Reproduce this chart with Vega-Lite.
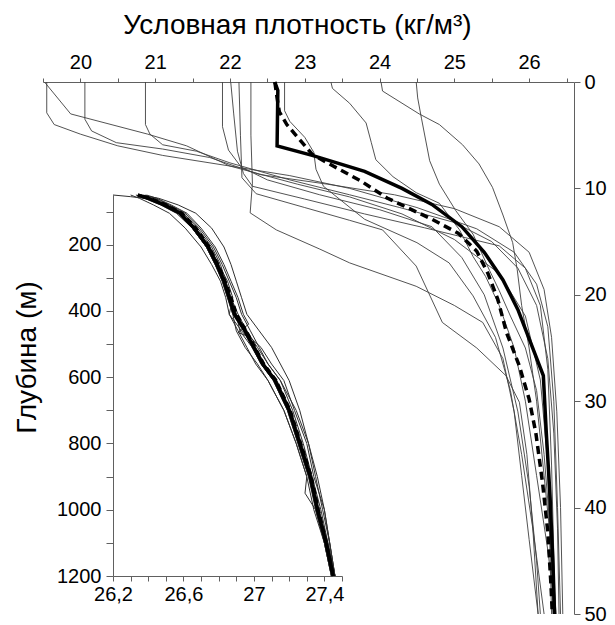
{
"$schema": "https://vega.github.io/schema/vega-lite/v6.json",
"width": 531, "height": 532,
"autosize": "none",
"padding": {"left": 43, "top": 82, "right": 41, "bottom": 11},
"background": "white",
"config": {"view": {"stroke": null}, "font": "Liberation Sans",
 "axis": {"labelFont": "Liberation Sans", "titleFont": "Liberation Sans", "labelColor": "#000", "titleColor": "#000", "domainColor": "#606060", "tickColor": "#606060", "grid": false, "titleFontWeight": "normal", "labelFontSize": 20, "titleFontSize": 28, "labelFlush": false, "labelOverlap": false, "labelBound": false}},
"datasets": {
"main": [
{"p":"P1","v":19.52,"d":0},{"p":"P1","v":19.87,"d":3.0},{"p":"P1","v":20.9,"d":4.9},{"p":"P1","v":21.42,"d":6.0},{"p":"P1","v":22.0,"d":7.9},{"p":"P1","v":22.9,"d":9.6},{"p":"P1","v":23.6,"d":10.8},{"p":"P1","v":24.3,"d":12.4},{"p":"P1","v":25.0,"d":14.8},{"p":"P1","v":25.6,"d":18.0},{"p":"P1","v":25.95,"d":22},{"p":"P1","v":26.15,"d":28},{"p":"P1","v":26.25,"d":36},{"p":"P1","v":26.3,"d":50},
{"p":"P2","v":19.55,"d":0},{"p":"P2","v":19.55,"d":2.9},{"p":"P2","v":19.65,"d":4.0},{"p":"P2","v":20.0,"d":4.9},{"p":"P2","v":20.5,"d":6.0},{"p":"P2","v":21.1,"d":6.9},{"p":"P2","v":22.0,"d":7.9},{"p":"P2","v":22.8,"d":8.8},{"p":"P2","v":23.6,"d":10.0},{"p":"P2","v":24.5,"d":11.8},{"p":"P2","v":25.3,"d":13.8},{"p":"P2","v":25.8,"d":16},{"p":"P2","v":26.1,"d":19},{"p":"P2","v":26.25,"d":23},{"p":"P2","v":26.33,"d":30},{"p":"P2","v":26.38,"d":40},{"p":"P2","v":26.42,"d":50},
{"p":"P3","v":20.06,"d":0},{"p":"P3","v":20.06,"d":3.5},{"p":"P3","v":20.15,"d":4.6},{"p":"P3","v":20.48,"d":5.7},{"p":"P3","v":21.1,"d":6.3},{"p":"P3","v":21.73,"d":7.1},{"p":"P3","v":22.4,"d":8.7},{"p":"P3","v":23.3,"d":9.6},{"p":"P3","v":24.2,"d":10.6},{"p":"P3","v":25.0,"d":11.9},{"p":"P3","v":25.6,"d":13.6},{"p":"P3","v":26.0,"d":16},{"p":"P3","v":26.2,"d":19.5},{"p":"P3","v":26.3,"d":24},{"p":"P3","v":26.37,"d":31},{"p":"P3","v":26.42,"d":40},{"p":"P3","v":26.45,"d":50},
{"p":"P4","v":20.87,"d":0},{"p":"P4","v":20.87,"d":4.0},{"p":"P4","v":20.93,"d":4.9},{"p":"P4","v":21.1,"d":5.9},{"p":"P4","v":21.55,"d":6.5},{"p":"P4","v":22.0,"d":7.6},{"p":"P4","v":22.8,"d":9.2},{"p":"P4","v":23.6,"d":10.6},{"p":"P4","v":24.27,"d":11.8},{"p":"P4","v":25.0,"d":13.2},{"p":"P4","v":25.5,"d":15.0},{"p":"P4","v":25.85,"d":17.5},{"p":"P4","v":26.1,"d":21},{"p":"P4","v":26.25,"d":26},{"p":"P4","v":26.33,"d":33},{"p":"P4","v":26.38,"d":42},{"p":"P4","v":26.4,"d":50},
{"p":"P5","v":21.9,"d":0},{"p":"P5","v":21.9,"d":4.2},{"p":"P5","v":21.98,"d":6.4},{"p":"P5","v":22.15,"d":8.0},{"p":"P5","v":22.5,"d":9.2},{"p":"P5","v":23.2,"d":10.6},{"p":"P5","v":24.0,"d":12.0},{"p":"P5","v":24.7,"d":13.6},{"p":"P5","v":25.1,"d":16.5},{"p":"P5","v":25.4,"d":20},{"p":"P5","v":25.65,"d":25},{"p":"P5","v":25.85,"d":31},{"p":"P5","v":26.0,"d":38},{"p":"P5","v":26.1,"d":45},{"p":"P5","v":26.15,"d":50},
{"p":"P6","v":22.01,"d":0},{"p":"P6","v":22.05,"d":3},{"p":"P6","v":22.1,"d":6.5},{"p":"P6","v":22.18,"d":8.6},{"p":"P6","v":22.3,"d":9.8},{"p":"P6","v":23.0,"d":11.0},{"p":"P6","v":23.8,"d":12.4},{"p":"P6","v":24.6,"d":13.7},{"p":"P6","v":25.6,"d":15.4},{"p":"P6","v":25.95,"d":17.5},{"p":"P6","v":26.15,"d":21},{"p":"P6","v":26.25,"d":27},{"p":"P6","v":26.3,"d":36},{"p":"P6","v":26.35,"d":50},
{"p":"P7","v":22.12,"d":0},{"p":"P7","v":22.14,"d":5},{"p":"P7","v":22.16,"d":9.0},{"p":"P7","v":22.35,"d":10.5},{"p":"P7","v":23.0,"d":11.8},{"p":"P7","v":23.6,"d":13.0},{"p":"P7","v":24.04,"d":13.9},{"p":"P7","v":24.49,"d":17.3},{"p":"P7","v":24.84,"d":22.6},{"p":"P7","v":25.3,"d":25.0},{"p":"P7","v":25.69,"d":27.6},{"p":"P7","v":25.87,"d":30.1},{"p":"P7","v":25.97,"d":35},{"p":"P7","v":26.05,"d":42},{"p":"P7","v":26.12,"d":50},
{"p":"P8","v":22.28,"d":0},{"p":"P8","v":22.28,"d":5},{"p":"P8","v":22.3,"d":9.5},{"p":"P8","v":22.27,"d":12.3},{"p":"P8","v":22.62,"d":13.9},{"p":"P8","v":23.2,"d":15.7},{"p":"P8","v":23.6,"d":17.0},{"p":"P8","v":24.49,"d":19.2},{"p":"P8","v":25.0,"d":21},{"p":"P8","v":25.38,"d":22.6},{"p":"P8","v":25.65,"d":26},{"p":"P8","v":25.8,"d":31},{"p":"P8","v":25.9,"d":37},{"p":"P8","v":26.0,"d":43},{"p":"P8","v":26.12,"d":50},
{"p":"P9","v":22.73,"d":0},{"p":"P9","v":22.73,"d":2.7},{"p":"P9","v":22.8,"d":3.7},{"p":"P9","v":23.0,"d":5.2},{"p":"P9","v":23.12,"d":6.6},{"p":"P9","v":23.15,"d":8.2},{"p":"P9","v":23.25,"d":9.8},{"p":"P9","v":23.8,"d":12.9},{"p":"P9","v":24.5,"d":15.1},{"p":"P9","v":24.93,"d":17.0},{"p":"P9","v":25.25,"d":20.1},{"p":"P9","v":25.55,"d":24},{"p":"P9","v":25.75,"d":29},{"p":"P9","v":25.9,"d":35},{"p":"P9","v":26.05,"d":42},{"p":"P9","v":26.2,"d":50},
{"p":"P10","v":23.35,"d":0},{"p":"P10","v":23.37,"d":0.6},{"p":"P10","v":23.6,"d":2.0},{"p":"P10","v":23.82,"d":3.85},{"p":"P10","v":23.89,"d":5.7},{"p":"P10","v":23.95,"d":7.3},{"p":"P10","v":24.18,"d":8.9},{"p":"P10","v":24.49,"d":10.4},{"p":"P10","v":24.8,"d":11.4},{"p":"P10","v":25.07,"d":13.9},{"p":"P10","v":25.25,"d":16.4},{"p":"P10","v":25.42,"d":18.3},{"p":"P10","v":25.6,"d":21},{"p":"P10","v":25.8,"d":25},{"p":"P10","v":25.95,"d":30},{"p":"P10","v":26.1,"d":37},{"p":"P10","v":26.25,"d":44},{"p":"P10","v":26.35,"d":50},
{"p":"P11","v":24.02,"d":0},{"p":"P11","v":24.04,"d":0.85},{"p":"P11","v":24.53,"d":3.0},{"p":"P11","v":24.8,"d":4.0},{"p":"P11","v":25.11,"d":5.9},{"p":"P11","v":25.33,"d":7.7},{"p":"P11","v":25.51,"d":9.9},{"p":"P11","v":25.65,"d":12.5},{"p":"P11","v":25.78,"d":15.1},{"p":"P11","v":25.84,"d":17.6},{"p":"P11","v":25.9,"d":21},{"p":"P11","v":26.0,"d":25},{"p":"P11","v":26.1,"d":30},{"p":"P11","v":26.2,"d":37},{"p":"P11","v":26.3,"d":44},{"p":"P11","v":26.36,"d":50},
{"p":"P12","v":24.49,"d":0},{"p":"P12","v":24.51,"d":1.5},{"p":"P12","v":24.56,"d":3.4},{"p":"P12","v":24.67,"d":7.4},{"p":"P12","v":24.8,"d":9.6},{"p":"P12","v":25.02,"d":12.1},{"p":"P12","v":25.25,"d":14.3},{"p":"P12","v":25.47,"d":17.7},{"p":"P12","v":25.6,"d":19.6},{"p":"P12","v":25.75,"d":22},{"p":"P12","v":25.95,"d":25},{"p":"P12","v":26.1,"d":29},{"p":"P12","v":26.2,"d":35},{"p":"P12","v":26.28,"d":42},{"p":"P12","v":26.32,"d":50}
],
"mainSolid": [
{"v":22.6,"d":0},{"v":22.64,"d":0.8},{"v":22.63,"d":6.0},{"v":23.1,"d":6.9},{"v":23.8,"d":8.4},{"v":24.3,"d":10.0},{"v":24.7,"d":11.5},{"v":25.1,"d":13.6},{"v":25.4,"d":16.0},{"v":25.65,"d":18.6},{"v":25.85,"d":21.4},{"v":26.02,"d":24.5},{"v":26.19,"d":27.6},{"v":26.23,"d":33},{"v":26.28,"d":39},{"v":26.32,"d":45.5},{"v":26.34,"d":50}
],
"mainDashed": [
{"v":22.6,"d":0},{"v":22.63,"d":1.5},{"v":22.66,"d":2.8},{"v":22.76,"d":4.0},{"v":22.93,"d":5.4},{"v":23.1,"d":6.8},{"v":23.38,"d":7.9},{"v":23.75,"d":9.3},{"v":24.1,"d":10.9},{"v":24.4,"d":11.9},{"v":24.7,"d":12.9},{"v":25.05,"d":14.2},{"v":25.3,"d":15.9},{"v":25.45,"d":18},{"v":25.58,"d":20.4},{"v":25.7,"d":23.6},{"v":25.87,"d":26.7},{"v":26.0,"d":29.8},{"v":26.09,"d":33},{"v":26.18,"d":37.7},{"v":26.25,"d":42.3},{"v":26.29,"d":47},{"v":26.31,"d":50}
],
"inset": [
{"p":"I1","d":50,"v":26.36},{"p":"I1","d":60,"v":26.46},{"p":"I1","d":80,"v":26.57},{"p":"I1","d":105,"v":26.67},{"p":"I1","d":150,"v":26.76},{"p":"I1","d":207,"v":26.83},{"p":"I1","d":260,"v":26.87},{"p":"I1","d":310,"v":26.90},{"p":"I1","d":360,"v":26.93},{"p":"I1","d":410,"v":26.96},{"p":"I1","d":460,"v":27.03},{"p":"I1","d":510,"v":27.10},{"p":"I1","d":560,"v":27.15},{"p":"I1","d":610,"v":27.20},{"p":"I1","d":700,"v":27.26},{"p":"I1","d":800,"v":27.31},{"p":"I1","d":900,"v":27.35},{"p":"I1","d":1000,"v":27.39},{"p":"I1","d":1100,"v":27.43},{"p":"I1","d":1200,"v":27.46},
{"p":"I2","d":50,"v":26.30},{"p":"I2","d":60,"v":26.35},{"p":"I2","d":80,"v":26.43},{"p":"I2","d":105,"v":26.52},{"p":"I2","d":150,"v":26.61},{"p":"I2","d":207,"v":26.70},{"p":"I2","d":260,"v":26.76},{"p":"I2","d":310,"v":26.81},{"p":"I2","d":360,"v":26.84},{"p":"I2","d":410,"v":26.86},{"p":"I2","d":460,"v":26.91},{"p":"I2","d":510,"v":26.96},{"p":"I2","d":560,"v":27.01},{"p":"I2","d":610,"v":27.08},{"p":"I2","d":700,"v":27.17},{"p":"I2","d":800,"v":27.24},{"p":"I2","d":900,"v":27.30},{"p":"I2","d":1000,"v":27.34},{"p":"I2","d":1100,"v":27.40},{"p":"I2","d":1200,"v":27.44},
{"p":"I3","d":50,"v":26.2},{"p":"I3","d":55,"v":26.3},{"p":"I3","d":60,"v":26.38},{"p":"I3","d":80,"v":26.47},{"p":"I3","d":105,"v":26.56},{"p":"I3","d":150,"v":26.65},{"p":"I3","d":207,"v":26.73},{"p":"I3","d":260,"v":26.78},{"p":"I3","d":310,"v":26.82},{"p":"I3","d":360,"v":26.85},{"p":"I3","d":410,"v":26.88},{"p":"I3","d":460,"v":26.94},{"p":"I3","d":510,"v":26.99},{"p":"I3","d":560,"v":27.04},{"p":"I3","d":610,"v":27.11},{"p":"I3","d":700,"v":27.19},{"p":"I3","d":800,"v":27.25},{"p":"I3","d":900,"v":27.31},{"p":"I3","d":1000,"v":27.35},{"p":"I3","d":1100,"v":27.40},{"p":"I3","d":1200,"v":27.44},
{"p":"I4","d":50,"v":26.36},{"p":"I4","d":60,"v":26.41},{"p":"I4","d":80,"v":26.50},{"p":"I4","d":105,"v":26.59},{"p":"I4","d":150,"v":26.67},{"p":"I4","d":207,"v":26.75},{"p":"I4","d":260,"v":26.80},{"p":"I4","d":310,"v":26.85},{"p":"I4","d":360,"v":26.88},{"p":"I4","d":410,"v":26.86},{"p":"I4","d":460,"v":26.93},{"p":"I4","d":510,"v":27.01},{"p":"I4","d":560,"v":27.06},{"p":"I4","d":610,"v":27.13},{"p":"I4","d":700,"v":27.21},{"p":"I4","d":800,"v":27.27},{"p":"I4","d":900,"v":27.33},{"p":"I4","d":1000,"v":27.37},{"p":"I4","d":1100,"v":27.42},{"p":"I4","d":1200,"v":27.46},
{"p":"I5","d":50,"v":26.38},{"p":"I5","d":60,"v":26.44},{"p":"I5","d":80,"v":26.52},{"p":"I5","d":105,"v":26.61},{"p":"I5","d":150,"v":26.69},{"p":"I5","d":207,"v":26.77},{"p":"I5","d":260,"v":26.82},{"p":"I5","d":310,"v":26.86},{"p":"I5","d":360,"v":26.90},{"p":"I5","d":410,"v":26.93},{"p":"I5","d":460,"v":26.98},{"p":"I5","d":510,"v":27.03},{"p":"I5","d":560,"v":27.08},{"p":"I5","d":610,"v":27.15},{"p":"I5","d":700,"v":27.22},{"p":"I5","d":800,"v":27.28},{"p":"I5","d":900,"v":27.33},{"p":"I5","d":1000,"v":27.38},{"p":"I5","d":1100,"v":27.42},{"p":"I5","d":1200,"v":27.46},
{"p":"I6","d":50,"v":26.35},{"p":"I6","d":60,"v":26.40},{"p":"I6","d":80,"v":26.48},{"p":"I6","d":105,"v":26.57},{"p":"I6","d":150,"v":26.65},{"p":"I6","d":207,"v":26.73},{"p":"I6","d":260,"v":26.78},{"p":"I6","d":310,"v":26.82},{"p":"I6","d":360,"v":26.85},{"p":"I6","d":410,"v":26.88},{"p":"I6","d":460,"v":26.90},{"p":"I6","d":510,"v":26.95},{"p":"I6","d":560,"v":27.02},{"p":"I6","d":610,"v":27.08},{"p":"I6","d":700,"v":27.17},{"p":"I6","d":800,"v":27.24},{"p":"I6","d":900,"v":27.30},{"p":"I6","d":950,"v":27.29},{"p":"I6","d":1000,"v":27.35},{"p":"I6","d":1100,"v":27.40},{"p":"I6","d":1200,"v":27.44},
{"p":"I7","d":50,"v":26.37},{"p":"I7","d":60,"v":26.42},{"p":"I7","d":80,"v":26.51},{"p":"I7","d":105,"v":26.60},{"p":"I7","d":150,"v":26.68},{"p":"I7","d":207,"v":26.76},{"p":"I7","d":260,"v":26.81},{"p":"I7","d":310,"v":26.84},{"p":"I7","d":360,"v":26.87},{"p":"I7","d":410,"v":26.91},{"p":"I7","d":460,"v":26.96},{"p":"I7","d":510,"v":27.02},{"p":"I7","d":560,"v":27.08},{"p":"I7","d":610,"v":27.15},{"p":"I7","d":700,"v":27.24},{"p":"I7","d":800,"v":27.31},{"p":"I7","d":900,"v":27.36},{"p":"I7","d":1000,"v":27.40},{"p":"I7","d":1100,"v":27.43},{"p":"I7","d":1200,"v":27.46},
{"p":"I8","d":50,"v":26.33},{"p":"I8","d":60,"v":26.39},{"p":"I8","d":80,"v":26.48},{"p":"I8","d":105,"v":26.57},{"p":"I8","d":150,"v":26.65},{"p":"I8","d":207,"v":26.73},{"p":"I8","d":260,"v":26.78},{"p":"I8","d":310,"v":26.83},{"p":"I8","d":360,"v":26.87},{"p":"I8","d":410,"v":26.90},{"p":"I8","d":460,"v":26.96},{"p":"I8","d":510,"v":26.99},{"p":"I8","d":560,"v":27.04},{"p":"I8","d":610,"v":27.11},{"p":"I8","d":700,"v":27.19},{"p":"I8","d":800,"v":27.25},{"p":"I8","d":900,"v":27.31},{"p":"I8","d":1000,"v":27.36},{"p":"I8","d":1100,"v":27.40},{"p":"I8","d":1200,"v":27.44},
{"p":"I9","d":50,"v":26.36},{"p":"I9","d":60,"v":26.41},{"p":"I9","d":80,"v":26.50},{"p":"I9","d":105,"v":26.59},{"p":"I9","d":150,"v":26.67},{"p":"I9","d":207,"v":26.75},{"p":"I9","d":260,"v":26.80},{"p":"I9","d":310,"v":26.84},{"p":"I9","d":360,"v":26.87},{"p":"I9","d":410,"v":26.90},{"p":"I9","d":460,"v":26.92},{"p":"I9","d":510,"v":26.99},{"p":"I9","d":560,"v":27.05},{"p":"I9","d":610,"v":27.12},{"p":"I9","d":700,"v":27.20},{"p":"I9","d":800,"v":27.26},{"p":"I9","d":900,"v":27.32},{"p":"I9","d":1000,"v":27.36},{"p":"I9","d":1100,"v":27.41},{"p":"I9","d":1200,"v":27.45},
{"p":"I10","d":50,"v":26.39},{"p":"I10","d":60,"v":26.45},{"p":"I10","d":80,"v":26.53},{"p":"I10","d":105,"v":26.62},{"p":"I10","d":150,"v":26.70},{"p":"I10","d":207,"v":26.78},{"p":"I10","d":260,"v":26.83},{"p":"I10","d":310,"v":26.87},{"p":"I10","d":360,"v":26.91},{"p":"I10","d":410,"v":26.94},{"p":"I10","d":440,"v":26.97},{"p":"I10","d":465,"v":26.91},{"p":"I10","d":480,"v":26.98},{"p":"I10","d":510,"v":27.04},{"p":"I10","d":560,"v":27.10},{"p":"I10","d":610,"v":27.17},{"p":"I10","d":700,"v":27.23},{"p":"I10","d":800,"v":27.30},{"p":"I10","d":900,"v":27.34},{"p":"I10","d":1000,"v":27.40},{"p":"I10","d":1100,"v":27.43},{"p":"I10","d":1200,"v":27.46}
],
"insetSolid": [
{"d":50,"v":26.34},{"d":60,"v":26.40},{"d":80,"v":26.49},{"d":105,"v":26.58},{"d":150,"v":26.66},{"d":207,"v":26.74},{"d":260,"v":26.79},{"d":310,"v":26.83},{"d":360,"v":26.86},{"d":410,"v":26.89},{"d":460,"v":26.95},{"d":510,"v":27.00},{"d":560,"v":27.05},{"d":610,"v":27.12},{"d":700,"v":27.20},{"d":800,"v":27.26},{"d":900,"v":27.32},{"d":1000,"v":27.36},{"d":1100,"v":27.41},{"d":1200,"v":27.45}
],
"insetDashed": [
{"d":55,"v":26.37},{"d":60,"v":26.41},{"d":80,"v":26.50},{"d":105,"v":26.59},{"d":150,"v":26.67},{"d":207,"v":26.745},{"d":260,"v":26.795},{"d":310,"v":26.835},{"d":360,"v":26.87},{"d":410,"v":26.9},{"d":460,"v":26.955},{"d":510,"v":27.005},{"d":560,"v":27.055},{"d":610,"v":27.125},{"d":700,"v":27.205},{"d":800,"v":27.265},{"d":900,"v":27.325},{"d":1000,"v":27.365},{"d":1100,"v":27.41},{"d":1200,"v":27.45}
]
},
"layer": [
{
 "encoding": {
  "x": {"field": "v", "type": "quantitative", "scale": {"domain": [19.5, 26.6], "nice": false, "zero": false},
   "axis": {"orient": "top", "values": [19.5,20,20.5,21,21.5,22,22.5,23,23.5,24,24.5,25,25.5,26,26.5], "labelExpr": "datum.value % 1 === 0 ? format(datum.value, 'd') : ''", "tickSize": 4, "labelPadding": 6, "title": "Условная плотность (кг/м³)", "titlePadding": 13, "titleX": 254}},
  "y": {"field": "d", "type": "quantitative", "scale": {"domain": [0, 50], "reverse": true, "nice": false, "zero": false},
   "axis": {"orient": "right", "values": [0,10,20,30,40,50], "tickSize": 6, "labelPadding": 4, "title": null}}
 },
 "layer": [
  {"data": {"name": "main"}, "mark": {"type": "line", "stroke": "#404040", "strokeWidth": 0.9}, "encoding": {"detail": {"field": "p"}, "order": {"field": "d", "type": "quantitative"}}},
  {"data": {"name": "mainSolid"}, "mark": {"type": "line", "stroke": "#000", "strokeWidth": 3.5}, "encoding": {"order": {"field": "d", "type": "quantitative"}}},
  {"data": {"name": "mainDashed"}, "mark": {"type": "line", "stroke": "#000", "strokeWidth": 3.5, "strokeDash": [8, 5]}, "encoding": {"order": {"field": "d", "type": "quantitative"}}}
 ]
},
{
 "encoding": {
  "x": {"field": "v", "type": "quantitative", "scale": {"domain": [26.2, 27.5], "range": [70, 299], "nice": false, "zero": false},
   "axis": {"orient": "bottom", "offset": -38, "values": [26.2,26.3,26.4,26.5,26.6,26.7,26.8,26.9,27,27.1,27.2,27.3,27.4,27.5], "labelExpr": "abs(datum.value-26.2)<0.01 ? '26,2' : abs(datum.value-26.6)<0.01 ? '26,6' : abs(datum.value-27)<0.01 ? '27' : abs(datum.value-27.4)<0.01 ? '27,4' : ''", "tickSize": 5, "labelPadding": 3, "title": null}},
  "y": {"field": "d", "type": "quantitative", "scale": {"domain": [50, 1200], "range": [113, 494], "nice": false, "zero": false},
   "axis": {"orient": "left", "offset": -70, "values": [100,200,300,400,500,600,700,800,900,1000,1100,1200], "labelExpr": "datum.value % 200 === 0 ? format(datum.value, 'd') : ''", "tickSize": 7, "labelPadding": 5, "title": "Глубина (м)", "titlePadding": 15, "titleY": 275}}
 },
 "layer": [
  {"data": {"name": "inset"}, "mark": {"type": "line", "stroke": "#303030", "strokeWidth": 1}, "encoding": {"detail": {"field": "p"}, "order": {"field": "d", "type": "quantitative"}}},
  {"data": {"name": "insetSolid"}, "mark": {"type": "line", "stroke": "#000", "strokeWidth": 3.5}, "encoding": {"order": {"field": "d", "type": "quantitative"}}},
  {"data": {"name": "insetDashed"}, "mark": {"type": "line", "stroke": "#000", "strokeWidth": 3.5, "strokeDash": [6, 4]}, "encoding": {"order": {"field": "d", "type": "quantitative"}}}
 ]
}
],
"resolve": {"scale": {"x": "independent", "y": "independent"}, "axis": {"x": "independent", "y": "independent"}}
}
